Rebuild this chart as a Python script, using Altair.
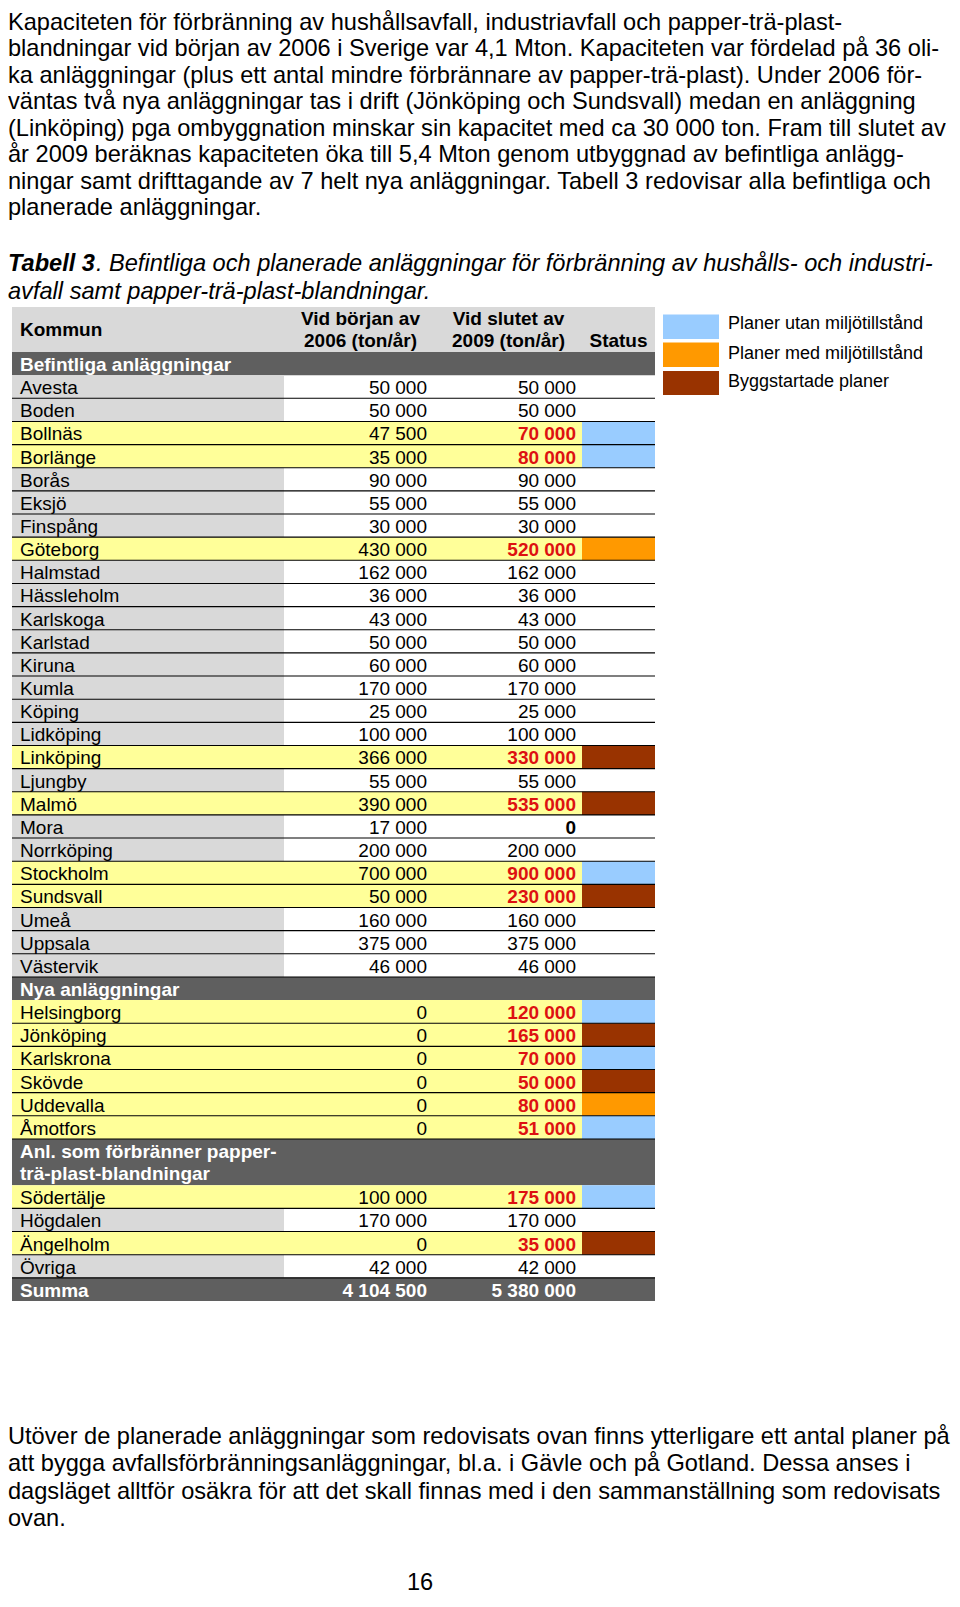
import altair as alt
import pandas as pd

# ---------------- data ----------------
intro_lines = [
    "Kapaciteten för förbränning av hushållsavfall, industriavfall och papper-trä-plast-",
    "blandningar vid början av 2006 i Sverige var 4,1 Mton. Kapaciteten var fördelad på 36 oli-",
    "ka anläggningar (plus ett antal mindre förbrännare av papper-trä-plast). Under 2006 för-",
    "väntas två nya anläggningar tas i drift (Jönköping och Sundsvall) medan en anläggning",
    "(Linköping) pga ombyggnation minskar sin kapacitet med ca 30 000 ton. Fram till slutet av",
    "år 2009 beräknas kapaciteten öka till 5,4 Mton genom utbyggnad av befintliga anlägg-",
    "ningar samt drifttagande av 7 helt nya anläggningar. Tabell 3 redovisar alla befintliga och",
    "planerade anläggningar.",
]
caption_lead = "Tabell 3"
caption_lines = [
    ". Befintliga och planerade anläggningar för förbränning av hushålls- och industri-",
    "avfall samt papper-trä-plast-blandningar.",
]
outro_lines = [
    "Utöver de planerade anläggningar som redovisats ovan finns ytterligare ett antal planer på",
    "att bygga avfallsförbränningsanläggningar, bl.a. i Gävle och på Gotland. Dessa anses i",
    "dagsläget alltför osäkra för att det skall finnas med i den sammanställning som redovisats",
    "ovan.",
]
page_number = "16"

header_kommun = "Kommun"
header_2006 = ["Vid början av", "2006 (ton/år)"]
header_2009 = ["Vid slutet av", "2009 (ton/år)"]
header_status = "Status"

section_titles = [
    ["Befintliga anläggningar"],
    ["Nya anläggningar"],
    ["Anl. som förbränner papper-", "trä-plast-blandningar"],
]

existing_names = ["Avesta", "Boden", "Bollnäs", "Borlänge", "Borås", "Eksjö", "Finspång",
                  "Göteborg", "Halmstad", "Hässleholm", "Karlskoga", "Karlstad", "Kiruna",
                  "Kumla", "Köping", "Lidköping", "Linköping", "Ljungby", "Malmö", "Mora",
                  "Norrköping", "Stockholm", "Sundsvall", "Umeå", "Uppsala", "Västervik"]
existing_2006 = [50000, 50000, 47500, 35000, 90000, 55000, 30000, 430000, 162000, 36000,
                 43000, 50000, 60000, 170000, 25000, 100000, 366000, 55000, 390000, 17000,
                 200000, 700000, 50000, 160000, 375000, 46000]
existing_2009 = [50000, 50000, 70000, 80000, 90000, 55000, 30000, 520000, 162000, 36000,
                 43000, 50000, 60000, 170000, 25000, 100000, 330000, 55000, 535000, 0,
                 200000, 900000, 230000, 160000, 375000, 46000]
existing_status = ["", "", "utan", "utan", "", "", "", "med", "", "", "", "", "",
                   "", "", "", "bygg", "", "bygg", "", "", "utan", "bygg", "", "", ""]

new_names = ["Helsingborg", "Jönköping", "Karlskrona", "Skövde", "Uddevalla", "Åmotfors"]
new_2006 = [0, 0, 0, 0, 0, 0]
new_2009 = [120000, 165000, 70000, 50000, 80000, 51000]
new_status = ["utan", "bygg", "utan", "bygg", "med", "utan"]

paper_names = ["Södertälje", "Högdalen", "Ängelholm", "Övriga"]
paper_2006 = [100000, 170000, 0, 42000]
paper_2009 = [175000, 170000, 35000, 42000]
paper_status = ["utan", "", "bygg", ""]

summa_label = "Summa"
summa_2006 = 4104500
summa_2009 = 5380000

status_keys = ["utan", "med", "bygg"]
status_labels = ["Planer utan miljötillstånd", "Planer med miljötillstånd", "Byggstartade planer"]

# ---------------- styles / layout ----------------
FONT = "Liberation Sans"
STATUS_COLORS = {"utan": "#99ccff", "med": "#ff9900", "bygg": "#993300"}
LIGHT = "#d9d9d9"
DARK = "#5f5f5f"
YELLOW = "#ffff99"
RED = "#dd1111"

W, H = 944, 1586
OX, OY = 5, 6  # reference page -> view offset


def X(v):
    return v - OX


def Y(v):
    return v - OY


XS = alt.Scale(domain=[0, W], nice=False, zero=False)
YS = alt.Scale(domain=[H, 0], nice=False, zero=False)

T0, T1, T2, T3, T4 = 9, 281, 430, 579, 652
NAME_X, NUM1_X, NUM2_X = 17, 424, 573
HEAD_TOP, BODY_TOP, ROW_H = 305, 350, 23.146
BASE = 19
TAB_FS = 19
PAR_FS = 23.6
PAR_LH = 27.4


def fmt(v):
    return f"{v:,}".replace(",", " ")


rects, rules = [], []
texts = {}  # key: (size, weight, align, style) -> list of rows


def add_text(key, x, y, t, c="black", view_y=None):
    texts.setdefault(key, []).append(dict(x=X(x), y=Y(y) if view_y is None else view_y, t=t, c=c))


def add_rect(x0, x1, y0, y1, fill):
    rects.append(dict(x=X(x0), x2=X(x1), y=Y(y0), y2=Y(y1), fill=fill))


N = (TAB_FS, "normal", "left", "normal")
NR = (TAB_FS, "normal", "right", "normal")
BR = (TAB_FS, "bold", "right", "normal")
BL = (TAB_FS, "bold", "left", "normal")
BC = (TAB_FS, "bold", "center", "normal")

# header
add_rect(T0, T4, HEAD_TOP, BODY_TOP, LIGHT)
add_text(BL, NAME_X, 333.5, header_kommun)
add_text(BC, (T1 + T2) / 2 + 2, 323, header_2006[0])
add_text(BC, (T1 + T2) / 2 + 2, 344.5, header_2006[1])
add_text(BC, (T2 + T3) / 2 + 1, 323, header_2009[0])
add_text(BC, (T2 + T3) / 2 + 1, 344.5, header_2009[1])
add_text(BC, (T3 + T4) / 2, 345, header_status)

groups = [
    (section_titles[0], existing_names, existing_2006, existing_2009, existing_status),
    (section_titles[1], new_names, new_2006, new_2009, new_status),
    (section_titles[2], paper_names, paper_2006, paper_2009, paper_status),
]

unit = 0
for sec, names, a, b, st in groups:
    top = BODY_TOP + unit * ROW_H
    add_rect(T0, T4, top, top + len(sec) * ROW_H, DARK)
    for k, line in enumerate(sec):
        add_text(BL, NAME_X, top + BASE + k * 22, line, "white")
    unit += len(sec)
    for name, v0, v1, s in zip(names, a, b, st):
        top = BODY_TOP + unit * ROW_H
        bot = top + ROW_H
        if s:
            add_rect(T0, T3, top, bot, YELLOW)
            add_rect(T3, T4, top, bot, STATUS_COLORS[s])
        else:
            add_rect(T0, T1, top, bot, LIGHT)
        rules.append(dict(x=X(T0), x2=X(T4), y=Y(bot)))
        add_text(N, NAME_X, top + BASE, name)
        add_text(NR, NUM1_X, top + BASE, fmt(v0))
        if s:
            add_text(BR, NUM2_X, top + BASE, fmt(v1), RED)
        elif v1 != v0:
            add_text(BR, NUM2_X, top + BASE, fmt(v1))
        else:
            add_text(NR, NUM2_X, top + BASE, fmt(v1))
        unit += 1

top = BODY_TOP + unit * ROW_H
add_rect(T0, T4, top, top + ROW_H, DARK)
add_text(BL, NAME_X, top + BASE, summa_label, "white")
add_text(BR, NUM1_X, top + BASE, fmt(summa_2006), "white")
add_text(BR, NUM2_X, top + BASE, fmt(summa_2009), "white")

# legend
leg_boxes = [(312.5, 337), (340.5, 365), (369, 393)]
leg_base = [327, 357, 385]
for key, lab, (y0, y1), yb in zip(status_keys, status_labels, leg_boxes, leg_base):
    add_rect(660, 716, y0, y1, STATUS_COLORS[key])
    add_text((18, "normal", "left", "normal"), 725, yb, lab)

# paragraphs
P = (PAR_FS, "normal", "left", "normal")
first_base = 22            # view px: keeps the first line (incl. ring accents) inside the view
last_base = Y(213)
step = (last_base - first_base) / (len(intro_lines) - 1)
for i, line in enumerate(intro_lines):
    add_text(P, 5, 0, line, view_y=first_base + i * step)
lead_w = 3.724 * PAR_FS  # advance width of the bold-italic lead
add_text((PAR_FS, "bold", "left", "italic"), 5, 269, caption_lead)
add_text((PAR_FS, "normal", "left", "italic"), 5 + lead_w, 269, caption_lines[0])
add_text((PAR_FS, "normal", "left", "italic"), 5, 297, caption_lines[1])
for i, line in enumerate(outro_lines):
    add_text(P, 5, 1442 + i * PAR_LH, line)
add_text(P, 404, 0, page_number, view_y=H - 4)

# ---------------- chart ----------------
layers = []
layers.append(
    alt.Chart(pd.DataFrame(rects)).mark_rect(strokeWidth=0).encode(
        x=alt.X("x:Q", scale=XS, axis=None), x2="x2:Q",
        y=alt.Y("y:Q", scale=YS, axis=None), y2="y2:Q",
        color=alt.Color("fill:N", scale=None),
    )
)
layers.append(
    alt.Chart(pd.DataFrame(rules)).mark_rule(color="black", strokeWidth=1.1).encode(
        x=alt.X("x:Q", scale=XS, axis=None), x2="x2:Q",
        y=alt.Y("y:Q", scale=YS, axis=None),
    )
)
for (size, weight, align, style), rows in texts.items():
    layers.append(
        alt.Chart(pd.DataFrame(rows)).mark_text(
            align=align, baseline="alphabetic", font=FONT, fontSize=size,
            fontWeight=weight, fontStyle=style,
        ).encode(
            x=alt.X("x:Q", scale=XS, axis=None),
            y=alt.Y("y:Q", scale=YS, axis=None),
            text="t:N",
            color=alt.Color("c:N", scale=None),
        )
    )

chart = alt.layer(*layers).properties(
    width=W, height=H, padding=0,
    autosize=alt.AutoSizeParams(type="none"),
).configure_view(stroke=None)

chart.save("out.html", embed_options={"renderer": "svg", "actions": False})
